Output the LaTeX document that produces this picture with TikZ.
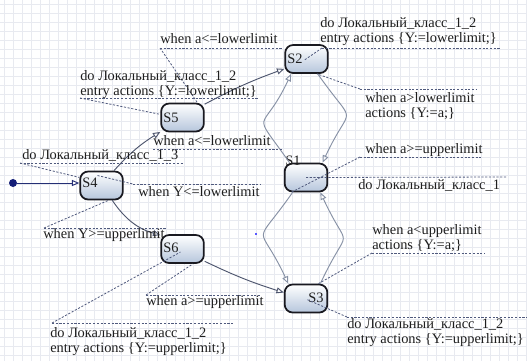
\documentclass[tikz,border=0pt]{standalone}
\usepackage{fontspec}
\setmainfont{Liberation Serif}
\usetikzlibrary{arrows.meta,calc}
\definecolor{gridc}{RGB}{232,234,240}
\definecolor{edgec}{RGB}{78,86,110}
\definecolor{edgel}{RGB}{135,145,165}
\definecolor{dashc}{RGB}{80,90,125}
\definecolor{borderc}{RGB}{25,25,32}
\definecolor{fillb}{RGB}{182,198,220}
\definecolor{navyc}{RGB}{20,30,120}
\definecolor{txtc}{RGB}{30,30,30}
\begin{document}
\begin{tikzpicture}[x=0.75pt,y=-0.75pt,
  stt/.style={draw=borderc, line width=1.3pt, rounded corners=6pt,
    minimum width=32pt, minimum height=21pt, inner sep=0pt,
    top color=white, bottom color=fillb},
  lbl/.style={inner sep=0pt, font=\fontsize{10.8}{11.5}\selectfont, text=txtc, align=left},
  tr/.style={draw=edgec, line width=0.7pt, -{Triangle[open,length=5.5pt,width=4.5pt]}},
  trl/.style={draw=edgel, line width=0.7pt, -{Triangle[open,length=5.5pt,width=4.5pt]}},
  uline/.style={draw=dashc, line width=0.6pt, dash pattern=on 1.6pt off 1.2pt},
  conn/.style={draw=dashc, line width=0.6pt, dash pattern=on 1.6pt off 1.2pt}]
\useasboundingbox (0,0) rectangle (527,361);
\fill[white] (0,0) rectangle (527,361);
\foreach \i in {4,13,...,526} \draw[gridc, line width=0.4pt] (\i,0) -- (\i,361);
\foreach \j in {4,13,...,360} \draw[gridc, line width=0.4pt] (0,\j) -- (527,\j);

% states
\node[stt] (S2) at (306.5,59) {};
\node[stt] (S5) at (182.5,117.5) {};
\node[stt] (S4) at (101.5,185.5) {};
\node[stt] (S1) at (306,177.5) {};
\node[stt] (S6) at (182.5,249) {};
\node[stt] (S3) at (306,298.5) {};
\node[lbl, anchor=base west] (S2t) at (287,63) {S2};
\node[lbl, anchor=base west] (S5t) at (163,122) {S5};
\node[lbl, anchor=base west] (S4t) at (82,187) {S4};
\node[lbl, anchor=base west] (S6t) at (163,252) {S6};
\node[lbl, anchor=base west] (S3t) at (308,302) {S3};
\node[lbl, anchor=base west] (S1t) at (285,165) {S1};

% initial
\node[circle, fill=navyc, inner sep=0pt, minimum size=6pt] (init) at (13,183) {};
\draw[draw=navyc!70!edgec, line width=0.7pt, -{Triangle[open,length=5.5pt,width=4.5pt]}] (init) -- (S4.west |- init);
\node[fill=blue!65, inner sep=0pt, minimum size=2pt] (mk) at (256,234) {};

% transitions
\draw[tr] (S4.50) to[bend left=8] (S5.213);
\draw[tr] (S5.31) to[bend left=4] (S2.204);
\draw[tr] (S4.-54) to[bend right=20] (S6.148);
\draw[tr] (S6.-29) to[bend right=4] (S3.165);
\draw[trl] (S2.-53) to[out=-55,in=65,looseness=2] (S1.42);
\draw[trl] (S1.138) to[out=125,in=-115,looseness=2] (S2.224);
\draw[trl] (S1.228) to[out=-125,in=115,looseness=2] (S3.140);
\draw[trl] (S3.46) to[out=65,in=-65,looseness=2] (S1.-46);

% labels
\node[lbl, anchor=base west] (L1) at (160,43) {when a<=lowerlimit};
\coordinate (L1a) at (160,48);
\draw[uline] (L1a) -- (283,48);
\draw[conn] (L1a) -- (S5.45);

\node[lbl, anchor=north west] (L2) at (80,70) {do Локальный\_класс\_1\_2\\entry actions \{Y:=lowerlimit;\}};
\coordinate (L2a) at (80,98);
\draw[uline] (L2a) -- (258,98);
\draw[conn] (L2a) -- (S5.172);

\node[lbl, anchor=base west] (L3) at (153,145) {when a<=lowerlimit};
\draw[uline] (153,149) -- (282,149);

\node[lbl, anchor=base west] (L4) at (22,159) {do Локальный\_класс\_1\_3};
\coordinate (L4a) at (20,163);
\draw[uline] (L4a) -- (184,163);
\draw[conn] (L4a) -- (S4.160);

\node[lbl, anchor=base west] (L5) at (138,196) {when Y<=lowerlimit};
\coordinate (L5a) at (133,184);
\draw[uline] (L5a) -- (260,184);
\draw[conn] ($(S4.center)+(-4,-10)$) -- (L5a);

\node[lbl, anchor=base west] (L6) at (43,238) {when Y>=upperlimit};
\coordinate (L6a) at (44,228);
\draw[uline] (L6a) -- (167,228);
\draw[conn] (L6a) -- (S4.-65);

\node[lbl, anchor=base west] (L7) at (146,305) {when a>=upperlimit};
\coordinate (L7a) at (146,295);
\draw[uline] (L7a) -- (261,295);
\draw[conn] (L7a) -- (S6.-55);

\node[lbl, anchor=north west] (L8) at (50,327) {do Локальный\_класс\_1\_2\\entry actions \{Y:=upperlimit;\}};
\coordinate (L8a) at (52,323);
\draw[uline] (L8a) -- (233,323);
\draw[conn] (L8a) -- ($(S6.center)+(-2,3)$);

\node[lbl, anchor=north west] (L9) at (320,17) {do Локальный\_класс\_1\_2\\entry actions \{Y:=lowerlimit;\}};
\coordinate (L9a) at (322,48);
\draw[uline] (L9a) -- (500,48);
\draw[conn] (L9a) -- ($(S2.center)+(-2,1)$);

\node[lbl, anchor=north west] (L10) at (365,92) {when a>lowerlimit\\actions \{Y:=a;\}};
\coordinate (L10a) at (360,89);
\draw[uline] (L10a) -- (477,89);
\draw[conn] (L10a) -- (S2.-55);

\node[lbl, anchor=base west] (L11) at (365,153) {when a>=upperlimit};
\coordinate (L11a) at (360,157);
\draw[uline] (L11a) -- (481,157);
\draw[conn] (L11a) -- (S1.225);

\node[lbl, anchor=base west] (L12) at (358,189) {do Локальный\_класс\_1};
\coordinate (L12a) at (507,177);
\draw[uline] (S1.center) -- (L12a);

\node[lbl, anchor=north west] (L13) at (372,224) {when a<upperlimit\\actions \{Y:=a;\}};
\coordinate (L13a) at (372,253);
\draw[uline] (L13a) -- (485,253);
\draw[conn] (L13a) -- (S3.50);

\node[lbl, anchor=north west] (L14) at (347,318) {do Локальный\_класс\_1\_2\\entry actions \{Y:=upperlimit;\}};
\coordinate (L14a) at (347,317);
\draw[uline] (L14a) -- (527,317);
\draw[conn] (L14a) -- ($(S3.center)+(1,1)$);
\end{tikzpicture}
\end{document}
